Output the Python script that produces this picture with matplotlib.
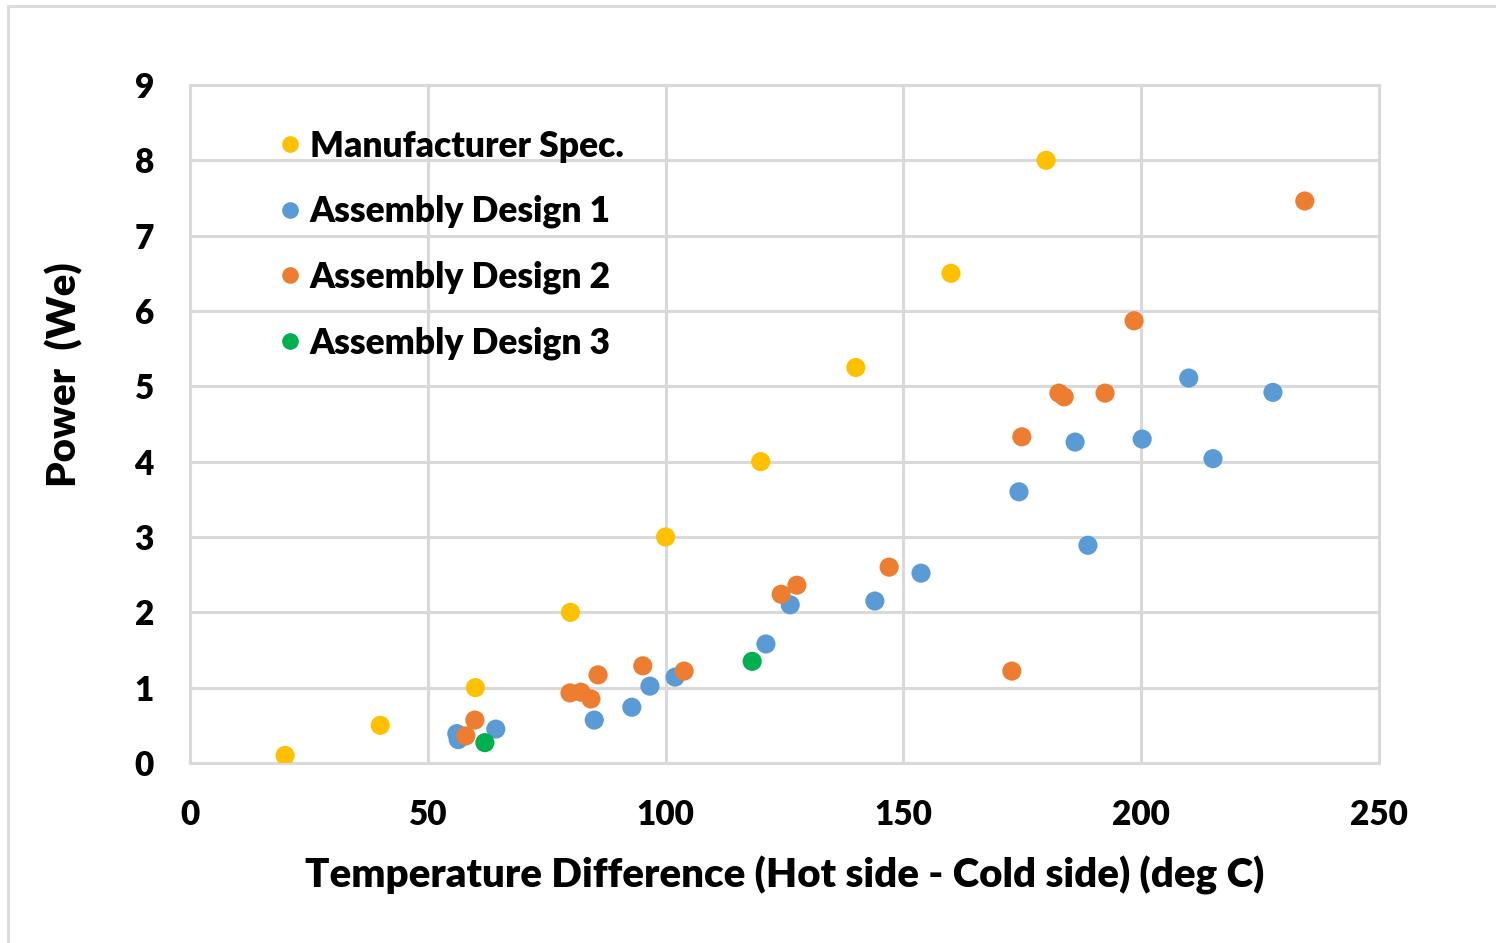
import matplotlib
matplotlib.use("Agg")
import matplotlib.pyplot as plt
from matplotlib.patches import Rectangle
from matplotlib.lines import Line2D

plt.rcParams['font.family'] = ['Lato', 'DejaVu Sans']
W = 'heavy'

# Data
mfr_x = [20, 40, 60, 80, 100, 120, 140, 160, 180]
mfr_y = [0.1, 0.5, 1.0, 2.0, 3.0, 4.0, 5.25, 6.5, 8.0]

d1_x = [56.1, 56.4, 64.3, 85.0, 92.9, 96.7, 102.0, 121.1, 126.2, 144.0, 153.7,
        174.3, 186.1, 188.8, 200.2, 210.0, 215.1, 227.7]
d1_y = [0.39, 0.31, 0.45, 0.57, 0.74, 1.02, 1.14, 1.58, 2.10, 2.15, 2.52,
        3.60, 4.26, 2.89, 4.30, 5.11, 4.04, 4.92]

d2_x = [58.0, 59.9, 79.9, 82.2, 84.3, 85.8, 95.2, 103.9, 124.3, 127.6, 147.0,
        172.8, 174.9, 182.7, 183.8, 192.4, 198.5, 234.4]
d2_y = [0.36, 0.57, 0.93, 0.94, 0.85, 1.17, 1.29, 1.22, 2.24, 2.36, 2.60,
        1.22, 4.33, 4.91, 4.86, 4.91, 5.87, 7.46]

d3_x = [62.0, 118.2]
d3_y = [0.27, 1.35]

labels = ["Manufacturer Spec.", "Assembly Design 1", "Assembly Design 2", "Assembly Design 3"]
colors = ["#FFC000", "#5B9BD5", "#ED7D31", "#00B050"]

fig = plt.figure(figsize=(14.96, 9.43), dpi=100)
ax = fig.add_axes([190/1496, 1-763/943, (1379-190)/1496, (763-85)/943])

series = [(mfr_x, mfr_y), (d1_x, d1_y), (d2_x, d2_y), (d3_x, d3_y)]
for (xs, ys), c in zip(series, colors):
    ax.scatter(xs, ys, s=190, color=c, edgecolors='none', zorder=3)

ax.set_xlim(0, 250)
ax.set_ylim(0, 9)
ax.set_xticks(range(0, 251, 50))
ax.set_yticks(range(0, 10))
ax.grid(True, color='#D9D9D9', linewidth=2.2)
ax.set_axisbelow(True)
for s in ax.spines.values():
    s.set_color('#D9D9D9')
    s.set_linewidth(2.2)
ax.tick_params(length=0, labelsize=24, colors='black')
ax.tick_params(axis='x', pad=26)
ax.tick_params(axis='y', pad=26)
for t in ax.get_xticklabels() + ax.get_yticklabels():
    t.set_fontweight(W)

ax.set_xlabel("Temperature Difference (Hot side - Cold side) (deg C)", fontsize=29,
              fontweight=W, labelpad=18)
ax.set_ylabel("Power  (We)", fontsize=29, fontweight=W)
ax.yaxis.set_label_coords(-0.090, 0.572)

handles = [Line2D([], [], marker='o', linestyle='none', markersize=12,
                  markerfacecolor=c, markeredgecolor='none') for c in colors]
leg = ax.legend(handles, labels, loc='upper left', bbox_to_anchor=(0.059, 0.955),
                frameon=False, fontsize=25.5, handletextpad=0.1, labelspacing=0.91,
                handlelength=0.9, borderaxespad=0)
for t in leg.get_texts():
    t.set_fontweight(W)

fig.patches.append(Rectangle((8/1496, -0.02), 1.1, 1 - 6/943 + 0.02,
                             transform=fig.transFigure, fill=False,
                             edgecolor='#D9D9D9', linewidth=2, zorder=0))

fig.savefig("out.png", dpi=100)
